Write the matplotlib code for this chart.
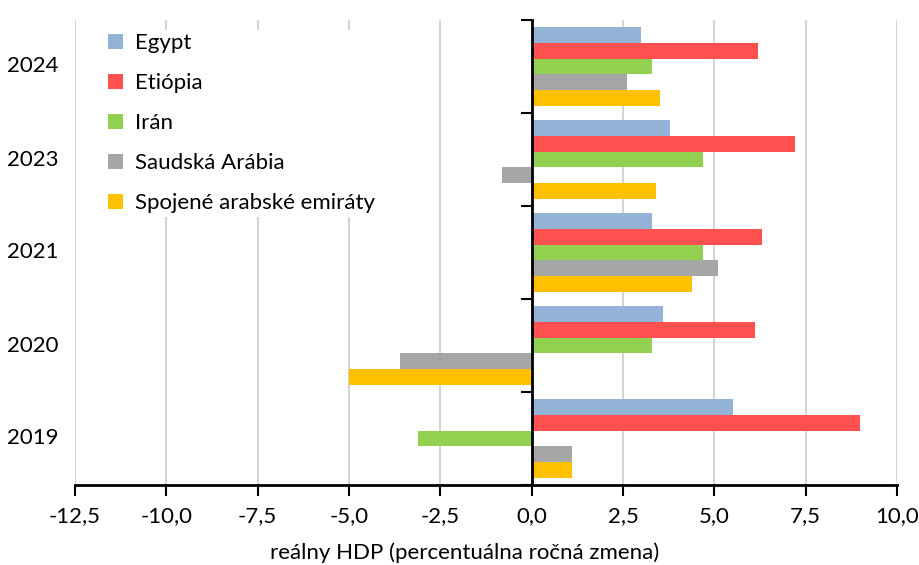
import matplotlib
matplotlib.use("Agg")
import matplotlib.pyplot as plt
import matplotlib.transforms as mtransforms
from matplotlib.ticker import FuncFormatter
import numpy as np

plt.rcParams['font.family'] = ['Lato', 'DejaVu Sans']

years = ['2019', '2020', '2021', '2023', '2024']
series = ['Egypt', 'Etiópia', 'Irán', 'Saudská Arábia', 'Spojené arabské emiráty']
colors = ['#95B3D7', '#FF5050', '#92D050', '#A6A6A6', '#FFC000']

egypt = [5.5, 3.6, 3.3, 3.8, 3.0]
ethiopia = [9.0, 6.1, 6.3, 7.2, 6.2]
iran = [-3.1, 3.3, 4.7, 4.7, 3.3]
saudi = [1.1, -3.6, 5.1, -0.8, 2.6]
uae = [1.1, -5.0, 4.4, 3.4, 3.5]
values = [egypt, ethiopia, iran, saudi, uae]

xticks = [-12.5, -10.0, -7.5, -5.0, -2.5, 0.0, 2.5, 5.0, 7.5, 10.0]

FS = 16

fig = plt.figure(figsize=(9.2, 5.65), dpi=100)
ax = fig.add_axes([75 / 920, 1 - 485 / 565, 822 / 920, 465 / 565])

bar_h = 0.17
ypos = np.arange(len(years))
for i, (name, vals, col) in enumerate(zip(series, values, colors)):
    offs = (2 - i) * bar_h
    ax.barh(ypos + offs, vals, height=bar_h, color=col, label=name, zorder=3)

ax.set_xlim(-12.5, 10.0)
ax.set_ylim(-0.5, len(years) - 0.5)
ax.set_xticks(xticks)
ax.xaxis.set_major_formatter(FuncFormatter(lambda v, p: f"{v:.1f}".replace('.', ',')))
ax.tick_params(axis='x', direction='out', length=8, width=1.5, labelsize=FS, pad=7)
ax.grid(axis='x', color='#D0D0D0', linewidth=1.3, zorder=0)

# category axis sits at zero with boundary tick marks
ax.spines['left'].set_position(('data', 0))
ax.spines['left'].set_linewidth(2)
ax.spines['left'].set_zorder(5)
ax.spines['bottom'].set_linewidth(2)
ax.spines['right'].set_visible(False)
ax.spines['top'].set_visible(False)
ax.set_yticks(np.arange(-0.5, len(years), 1.0))
ax.set_yticklabels([])
ax.tick_params(axis='y', direction='out', length=8, width=1.5)

trans = mtransforms.blended_transform_factory(ax.transAxes, ax.transData)
for y, lab in zip(ypos, years):
    ax.text(-0.02, y, lab, transform=trans, ha='right', va='center', fontsize=FS)

ax.set_xlabel('reálny HDP (percentuálna ročná zmena)', fontsize=FS)
ax.xaxis.set_label_coords(0.4745, -68 / 465, transform=ax.transAxes)
ax.xaxis.label.set_va('center')

leg = ax.legend(loc='upper left', bbox_to_anchor=(105 / 920, 1 - 30 / 565),
                bbox_transform=fig.transFigure, frameon=True, fontsize=FS,
                handlelength=0.68, handleheight=0.68, handletextpad=0.5,
                labelspacing=0.9, borderpad=0.15, borderaxespad=0)
leg.get_frame().set_facecolor('white')
leg.get_frame().set_edgecolor('none')
leg.get_frame().set_alpha(1)
leg.set_zorder(4)

fig.savefig('out.png', dpi=100)
